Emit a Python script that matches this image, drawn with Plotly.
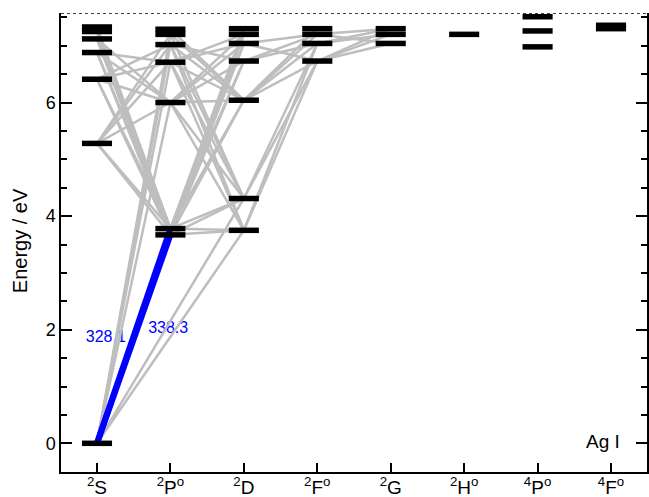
import plotly.graph_objects as go

# ---- data -------------------------------------------------------------
term_labels = ["<sup>2</sup>S", "<sup>2</sup>P<sup>o</sup>", "<sup>2</sup>D",
               "<sup>2</sup>F<sup>o</sup>", "<sup>2</sup>G", "<sup>2</sup>H<sup>o</sup>",
               "<sup>4</sup>P<sup>o</sup>", "<sup>4</sup>F<sup>o</sup>"]
term_keys = ["S", "P", "D", "F", "G", "H", "Q", "R"]

S_levels = [0.0, 5.28, 6.41, 6.88, 7.12, 7.25, 7.33]
P_levels = [3.67, 3.78, 6.00, 6.71, 7.02, 7.20, 7.29]
D_levels = [3.75, 4.31, 6.04, 6.73, 7.04, 7.20, 7.30]
F_levels = [6.73, 7.04, 7.20, 7.30]
G_levels = [7.04, 7.20, 7.30]
H_levels = [7.20]
Q_levels = [6.98, 7.26, 7.51]   # 4P°
R_levels = [7.30, 7.36]         # 4F°

ionization_limit = 7.576

gray_transitions = [
    "S0-P2", "S0-P3", "S0-P4", "S0-P5", "S0-D0", "S0-D1",
    "S1-P0", "S1-P1", "S1-P2", "S1-P3", "S1-P4", "S1-P5",
    "S2-P0", "S2-P1", "S2-P2", "S2-P3", "S2-P4",
    "S3-P0", "S3-P1", "S3-P2", "S3-P3",
    "S4-P0", "S4-P1", "S4-P2",
    "S5-P0", "S5-P1", "S6-P1",
    "P0-D0", "P0-D1", "P0-D2", "P0-D3", "P0-D4", "P0-D5",
    "P1-D0", "P1-D1", "P1-D2", "P1-D3", "P1-D4", "P1-D5", "P1-D6",
    "P2-D0", "P2-D1", "P2-D2", "P2-D3", "P2-D4", "P2-D5",
    "P3-D0", "P3-D1", "P3-D2", "P3-D4", "P3-D5",
    "P4-D0", "P4-D1", "P4-D2", "P4-D3",
    "P5-D1", "P5-D2", "P6-D2",
    "D0-F0", "D0-F1", "D1-F0", "D1-F1",
    "D2-F0", "D2-F1", "D2-F2", "D2-F3",
    "D3-F1", "D3-F2", "D4-F0", "D4-F2",
    "F0-G0", "F0-G1", "F0-G2", "F1-G1", "F1-G2", "F2-G0", "F2-G2",
]
blue_transitions = ["S0-P0", "S0-P1"]
blue_labels = ["328.1", "338.3"]

# ---- helpers ----------------------------------------------------------
levels = {"S": S_levels, "P": P_levels, "D": D_levels, "F": F_levels,
          "G": G_levels, "H": H_levels, "Q": Q_levels, "R": R_levels}


def level_point(tag):
    key, idx = tag[0], int(tag[1:])
    return term_keys.index(key), levels[key][idx]


def segments(trans_list):
    xs, ys = [], []
    for t in trans_list:
        a, b = t.split("-")
        x0, y0 = level_point(a)
        x1, y1 = level_point(b)
        xs += [x0, x1, None]
        ys += [y0, y1, None]
    return xs, ys


HALF = 0.205
bx, by = [], []
for key in term_keys:
    xi = term_keys.index(key)
    for e in levels[key]:
        bx += [xi - HALF, xi + HALF, None]
        by += [e, e, None]

FONT = "Liberation Sans, Arial, Helvetica, sans-serif"

fig = go.Figure()

# wavelength labels (drawn first, lines pass over them)
fig.add_trace(go.Scatter(
    x=[0.12, 0.97], y=[1.86, 2.01], mode="text", text=blue_labels,
    textfont=dict(color="#0000ff", size=16, family=FONT),
    hoverinfo="skip", showlegend=False))

gx, gy = segments(gray_transitions)
fig.add_trace(go.Scatter(x=gx, y=gy, mode="lines",
                         line=dict(color="#bebebe", width=2.5),
                         hoverinfo="skip", showlegend=False))

bxl, byl = segments(blue_transitions)
fig.add_trace(go.Scatter(x=bxl, y=byl, mode="lines",
                         line=dict(color="#0000ff", width=6),
                         hoverinfo="skip", showlegend=False))

fig.add_trace(go.Scatter(x=bx, y=by, mode="lines",
                         line=dict(color="black", width=5.5),
                         hoverinfo="skip", showlegend=False))

fig.add_shape(type="line", xref="paper", yref="y", x0=0, x1=1,
              y0=ionization_limit, y1=ionization_limit,
              line=dict(color="black", width=1.5, dash="dot"))

fig.add_annotation(x=7.15, y=0.03, xref="x", yref="y", text="Ag I",
                   showarrow=False, xanchor="right", yanchor="middle",
                   font=dict(size=19, color="black", family=FONT))

fig.add_annotation(x=-0.07, y=0.505, xref="paper", yref="paper",
                   text="Energy / eV", textangle=-90, showarrow=False,
                   xanchor="center", yanchor="middle",
                   font=dict(size=20, color="black", family=FONT))

fig.update_layout(
    template="none",
    width=649, height=497,
    margin=dict(l=61, r=2, t=13, b=25, autoexpand=False),
    paper_bgcolor="white", plot_bgcolor="white",
    font=dict(family=FONT, color="black"),
    xaxis=dict(range=[-0.49, 7.49], tickmode="array", automargin=False,
               tickvals=list(range(len(term_labels))), ticktext=term_labels,
               ticks="inside", ticklen=9, tickwidth=1.5, tickcolor="black",
               ticklabelstandoff=-3,
               showline=True, linecolor="black", linewidth=1.5, mirror=False,
               showgrid=False, zeroline=False,
               tickfont=dict(size=19, color="black", family=FONT)),
    yaxis=dict(range=[-0.505, ionization_limit], tickmode="linear", tick0=0, dtick=2,
               automargin=False,
               ticks="inside", ticklen=11, tickwidth=1.5, tickcolor="black",
               minor=dict(dtick=0.5, ticks="inside", ticklen=6, tickwidth=1.5,
                          tickcolor="black", showgrid=False),
               showline=True, linecolor="black", linewidth=1.5, mirror="allticks",
               showgrid=False, zeroline=False,
               tickfont=dict(size=18, color="black", family=FONT)),
)

fig.write_html("out.html")
